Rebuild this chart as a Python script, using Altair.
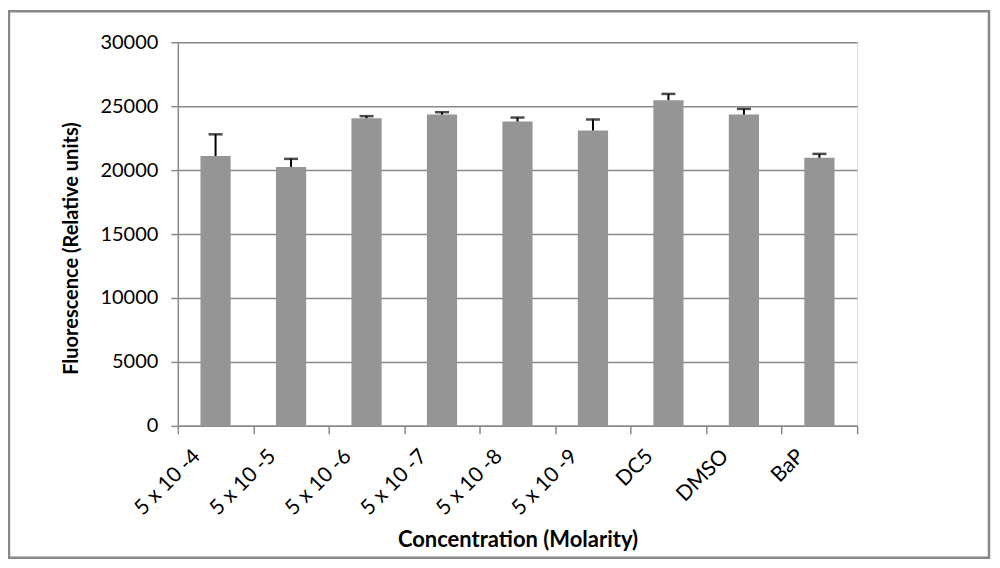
import altair as alt
import pandas as pd

categories = ["5 x 10 -4", "5 x 10 -5", "5 x 10 -6", "5 x 10 -7", "5 x 10 -8",
              "5 x 10 -9", "DC5", "DMSO", "BaP"]
values = [21100, 20250, 24060, 24340, 23800, 23100, 25470, 24340, 20960]
errors = [1700, 630, 160, 190, 310, 860, 490, 450, 310]

df = pd.DataFrame({"cat": categories, "val": values, "err": errors})
df["top"] = df["val"] + df["err"]

FONT = "Lato"
W, H = 680, 384

x_enc = alt.X("cat:N", sort=categories,
              scale=alt.Scale(paddingInner=0, paddingOuter=0),
              axis=alt.Axis(title="Concentration (Molarity)", labelAngle=-45,
                            labelAlign="right", labelBaseline="middle",
                            labelOffset=-19, labelPadding=19, tickBand="extent",
                            tickSize=8, tickColor="#8a8a8a", tickWidth=1.5,
                            domainColor="#8a8a8a", domainWidth=1.5,
                            labelFont=FONT, labelFontSize=21, labelColor="#000",
                            titleFont=FONT, titleFontSize=22, titleFontWeight="bold",
                            titleColor="#000", titleY=114, titleBaseline="middle",
                            grid=False))

y_axis = alt.Axis(title="Fluorescence (Relative units)", values=[0, 5000, 10000, 15000, 20000, 25000, 30000],
                  format="d", tickSize=7, tickColor="#8a8a8a", tickWidth=1.5,
                  domainColor="#8a8a8a", domainWidth=1.5,
                  gridColor="#8a8a8a", gridWidth=1.5,
                  labelFont=FONT, labelFontSize=20, labelColor="#000", labelPadding=13,
                  titleFont=FONT, titleFontSize=20, titleFontWeight="bold", titleColor="#000",
                  titleX=-106, titleY=206, titleAngle=-90, titleAlign="center",
                  titleBaseline="middle")

y_scale = alt.Scale(domain=[0, 30000], nice=False)

base = alt.Chart(df)

bars = base.mark_bar(color="#959595", width=alt.RelativeBandSize(0.4)).encode(
    x=x_enc,
    y=alt.Y("val:Q", scale=y_scale, axis=y_axis),
)

err_rule = base.mark_rule(color="#000", strokeWidth=2).encode(
    x=alt.X("cat:N", sort=categories),
    y=alt.Y("val:Q"),
    y2="top:Q",
)

err_cap = base.mark_tick(color="#000", size=14, thickness=2.5, orient="horizontal").encode(
    x=alt.X("cat:N", sort=categories),
    y=alt.Y("top:Q"),
)

border = alt.Chart(pd.DataFrame({"a": [0]})).mark_rect(
    fillOpacity=0, stroke="#888888", strokeWidth=2.5, clip=False
).encode(x=alt.value(-169), x2=alt.value(812), y=alt.value(-31), y2=alt.value(516))

chart = alt.layer(bars, err_rule, err_cap, border).properties(
    width=W, height=H,
    autosize=alt.AutoSizeParams(type="none"),
    padding={"left": 170, "top": 34, "right": 135, "bottom": 136},
).configure_view(stroke=None).configure(background="white")

chart.save("out.html", embed_options={"renderer": "svg", "actions": False})
